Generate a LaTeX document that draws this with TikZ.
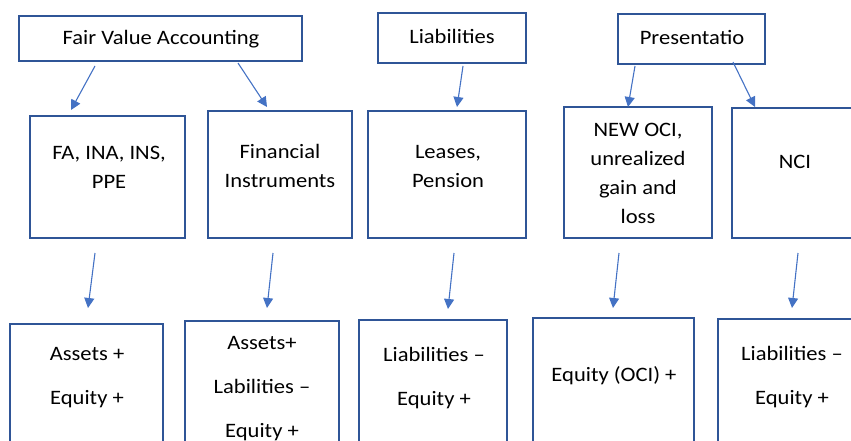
\documentclass[tikz,border=0pt]{standalone}
\usepackage{fontspec}
\setmainfont{Carlito}[FakeStretch=1.1]
\usetikzlibrary{arrows.meta}
\definecolor{boxblue}{RGB}{47,85,151}
\definecolor{arrowblue}{RGB}{68,114,196}
\begin{document}
\begin{tikzpicture}[x=1pt,y=-1pt,
  boxnode/.style={draw=boxblue,line width=1.8pt,rectangle,inner sep=0pt,outer sep=0pt},
  midtext/.style={align=center,font=\fontsize{20.5}{29}\selectfont,inner sep=0pt},
  bottext/.style={align=center,font=\fontsize{20.5}{44}\selectfont,inner sep=0pt},
  toptext/.style={font=\fontsize{20.5}{24}\selectfont,inner sep=0pt},
  conn/.style={draw=arrowblue,line width=1.1pt,-{Triangle[length=10pt,width=10pt]}}]
\useasboundingbox (0,0) rectangle (851,441);
\clip (0,0) rectangle (851,441);
% top boxes
\node[boxnode,minimum width=283pt,minimum height=45pt] (fva) at (160.5,38.5) {};
\node[boxnode,minimum width=148pt,minimum height=50pt] (liab) at (452,38) {};
\node[boxnode,minimum width=147pt,minimum height=50pt] (pres) at (691.5,39) {};
\node[toptext] (tfva) at (161,39) {Fair Value Accounting};
\node[toptext] (tliab) at (452,36) {Liabilities};
\node[toptext] (tpres) at (692,37) {Presentatio};
% middle boxes
\node[boxnode,minimum width=155pt,minimum height=122pt] (m1) at (107.5,177) {};
\node[boxnode,minimum width=144pt,minimum height=127pt] (m2) at (280,174.5) {};
\node[boxnode,minimum width=158pt,minimum height=127pt] (m3) at (447,174.5) {};
\node[boxnode,minimum width=148pt,minimum height=131pt] (m4) at (638,172.5) {};
\node[boxnode,minimum width=148pt,minimum height=130pt] (m5) at (806,173) {};
\node[midtext] (tm1) at (109,167) {FA, INA, INS,\\PPE};
\node[midtext] (tm2) at (280,166) {Financial\\Instruments};
\node[midtext] (tm3) at (448,166.5) {Leases,\\Pension};
\node[midtext] (tm4) at (638,173) {NEW OCI,\\unrealized\\gain and\\loss};
\node[toptext] (tm5) at (795,162) {NCI};
% bottom boxes
\node[boxnode,minimum width=153pt,minimum height=146pt] (b1) at (86.5,397) {};
\node[boxnode,minimum width=154pt,minimum height=149pt] (b2) at (262,395.5) {};
\node[boxnode,minimum width=148pt,minimum height=150pt] (b3) at (433,395) {};
\node[boxnode,minimum width=161pt,minimum height=152pt] (b4) at (613.5,394) {};
\node[boxnode,minimum width=152pt,minimum height=151pt] (b5) at (794,394.5) {};
\node[bottext] (tb1) at (87,378) {Assets +\\Equity +};
\node[bottext] (tb2) at (262,389) {Assets+\\Labilities –\\Equity +};
\node[bottext] (tb3) at (434,378) {Liabilities –\\Equity +};
\node[toptext] (tb4) at (614,375.5) {Equity (OCI) +};
\node[bottext] (tb5) at (792,377.5) {Liabilities –\\Equity +};
% connector end points
\coordinate (s1) at (95,66);   \coordinate (e1) at (71,110);
\coordinate (s2) at (238,63);  \coordinate (e2) at (267,107);
\coordinate (s3) at (463,66);  \coordinate (e3) at (457,107);
\coordinate (s4) at (635,66);  \coordinate (e4) at (628,107);
\coordinate (s5) at (733,62);  \coordinate (e5) at (755,107);
\coordinate (u1) at (95,253);  \coordinate (v1) at (88,308);
\coordinate (u2) at (273,253); \coordinate (v2) at (267,308);
\coordinate (u3) at (454,253); \coordinate (v3) at (448,309);
\coordinate (u4) at (619,253); \coordinate (v4) at (613,308);
\coordinate (u5) at (798,253); \coordinate (v5) at (792,308);
\foreach \i in {1,...,5}{
  \draw[conn] (s\i) -- (e\i);
  \draw[conn] (u\i) -- (v\i);
}
\end{tikzpicture}
\end{document}
